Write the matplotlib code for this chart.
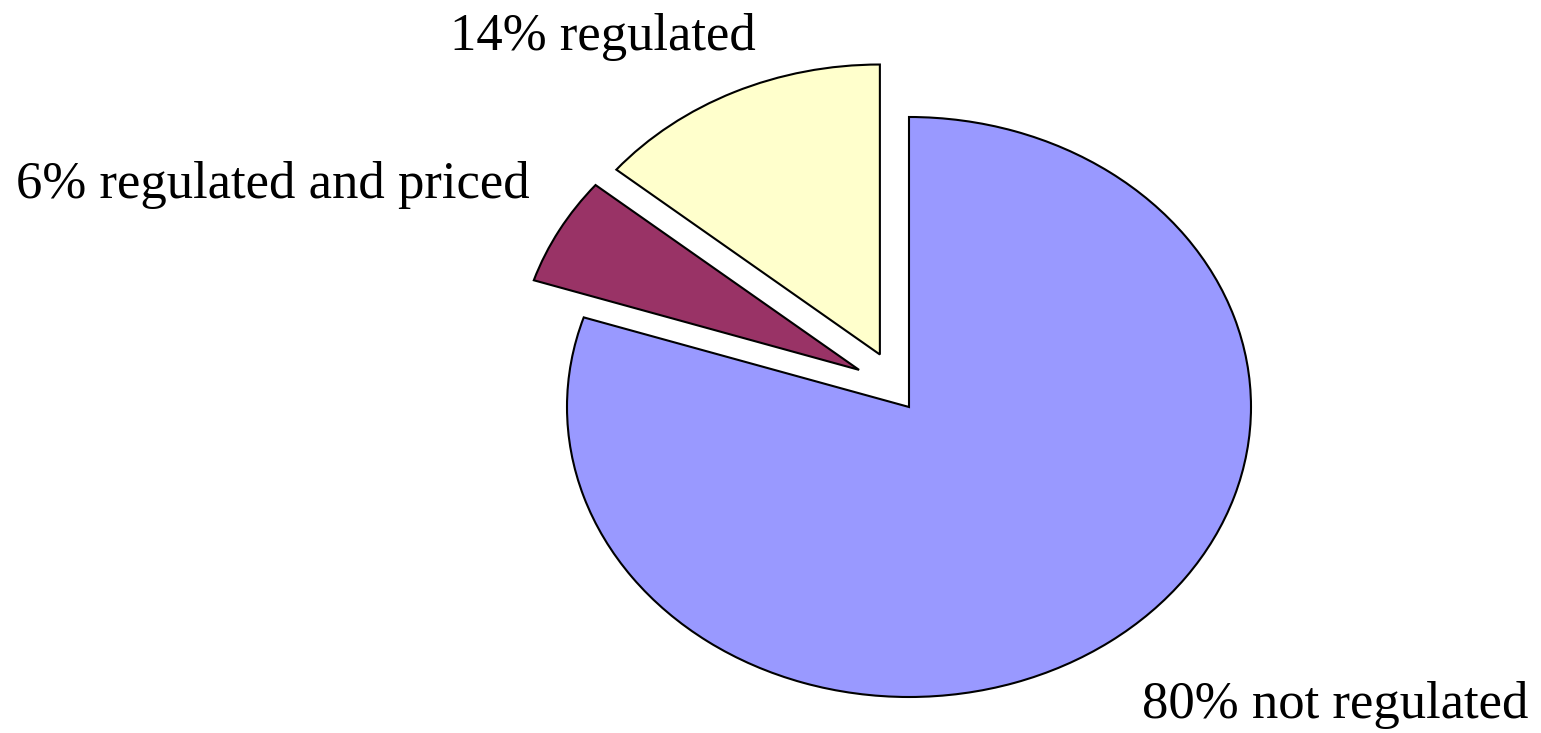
import numpy as np
from matplotlib import pyplot as plt

# slice data (counter-clockwise from 12 o'clock)
labels = ["14% regulated", "6% regulated and priced", "80% not regulated"]
shares = [14, 6, 80]
colors = ["#FFFFCC", "#993366", "#9999FF"]
explode = [0.2, 0.2, 0.0]

W, H = 1541, 733
fig = plt.figure(figsize=(W / 100, H / 100), dpi=100)
ax = fig.add_axes([0, 0, 1, 1])

wedges, _ = ax.pie(shares, colors=colors, explode=explode, startangle=90,
                   counterclock=True,
                   wedgeprops=dict(edgecolor="black", linewidth=1.5))

# the small slice is pulled out a bit more upward in the original
wedges[1].set_center((-0.146, 0.128))

# pie is drawn as an ellipse in the original, so drop equal aspect
ax.set_aspect("auto")
cx, cy = 909, 407      # pie centre in pixels (from top)
rx, ry = 342, 290      # pixel radii
ax.set_xlim(-cx / rx, (W - cx) / rx)
ax.set_ylim(-(H - cy) / ry, cy / ry)
ax.axis("off")

# label positions in pixels: left edge, baseline
label_pos = [(450, 50), (16, 198), (1142, 718)]
for txt, (px, py) in zip(labels, label_pos):
    fig.text(px / W, 1 - py / H, txt, ha="left", va="baseline",
             fontsize=38, family="Liberation Serif", color="black")

fig.savefig("out.png", dpi=100)
